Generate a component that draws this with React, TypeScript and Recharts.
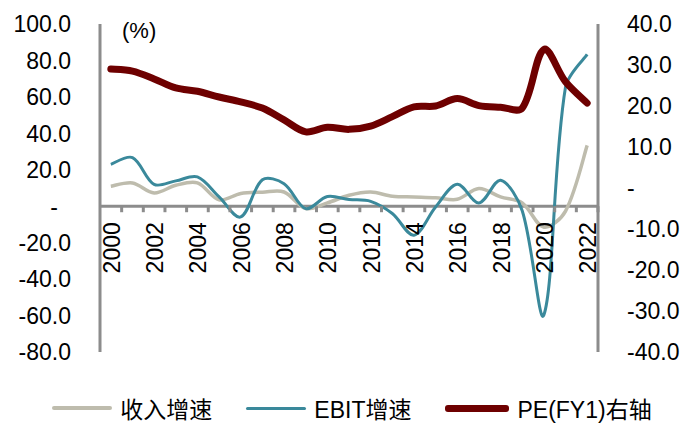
import React from 'react';
import {
  LineChart,
  Line,
  XAxis,
  YAxis,
  ReferenceLine,
  ReferenceDot,
  Legend,
} from 'recharts';

// years on the category axis
const years = [
  2000, 2001, 2002, 2003, 2004, 2005, 2006, 2007, 2008, 2009, 2010, 2011,
  2012, 2013, 2014, 2015, 2016, 2017, 2018, 2019, 2020, 2021, 2022,
];

// 收入增速 (%), left axis
const revenueGrowth = [
  11.0, 12.8, 7.3, 11.5, 12.8, 3.5, 7.0, 7.7, 7.8, -1.3, 1.8, 6.0,
  7.8, 5.5, 5.1, 4.7, 3.8, 9.7, 5.1, 1.8, -11.5, -2.7, 33.4,
];

// EBIT增速 (%), left axis
const ebitGrowth = [
  23.0, 26.7, 12.0, 13.9, 16.1, 5.1, -5.9, 14.5, 12.4, -1.3, 5.3, 3.7,
  2.7, -4.0, -15.9, -0.4, 12.0, 1.8, 14.2, -2.5, -59.7, 65.4, 83.3,
];

// PE(FY1), right axis
const peFy1 = [
  29.0, 28.5, 26.6, 24.4, 23.6, 22.2, 21.0, 19.5, 16.6, 13.7, 14.8, 14.3,
  15.1, 17.4, 19.8, 20.0, 21.8, 20.1, 19.7, 19.5, 33.8, 25.9, 20.7,
];

const leftTicks = [-80, -60, -40, -20, 0, 20, 40, 60, 80, 100];
const rightTicks = [-40, -30, -20, -10, 0, 10, 20, 30, 40];

const data = years.map((year, i) => ({
  year,
  revenue: revenueGrowth[i],
  ebit: ebitGrowth[i],
  pe: peFy1[i],
}));

const FONT = 'Arial, "Liberation Sans", "Noto Sans CJK SC", sans-serif';
const AXIS_GREY = '#8c8c8c';
const WIDTH = 700;
const HEIGHT = 436;
const LEFT_W = 100;
const RIGHT_W = 102;
const HALF_STEP = (WIDTH - LEFT_W - RIGHT_W) / years.length / 2;

const legendOrder = ['revenue', 'ebit', 'pe'];
const seriesStyle: Record<string, { color: string; width: number; sample: number }> = {
  revenue: { color: '#bebcad', width: 3.5, sample: 60 },
  ebit: { color: '#3a899b', width: 3, sample: 60 },
  pe: { color: '#6e0000', width: 7, sample: 64 },
};

// Excel-like smoothed line: Bezier through every point, tangents scaled by
// the lengths of the neighbouring segments so short segments don't overshoot
const excelSmooth = (context: any) => {
  let pts: number[][] = [];
  return {
    areaStart() {},
    areaEnd() {},
    lineStart() {
      pts = [];
    },
    point(x: number, y: number) {
      pts.push([+x, +y]);
    },
    lineEnd() {
      const n = pts.length;
      if (!n) return;
      const dist = (a: number[], b: number[]) =>
        Math.hypot(b[0] - a[0], b[1] - a[1]) || 1e-6;
      context.moveTo(pts[0][0], pts[0][1]);
      for (let i = 0; i < n - 1; i++) {
        const p0 = pts[Math.max(0, i - 1)];
        const p1 = pts[i];
        const p2 = pts[i + 1];
        const p3 = pts[Math.min(n - 1, i + 2)];
        const d01 = i > 0 ? dist(p0, p1) : dist(p1, p2);
        const d12 = dist(p1, p2);
        const d23 = i + 2 < n ? dist(p2, p3) : d12;
        const f1 = d12 / (d01 + d12) / 3;
        const f2 = d12 / (d12 + d23) / 3;
        context.bezierCurveTo(
          p1[0] + (p2[0] - p0[0]) * f1,
          p1[1] + (p2[1] - p0[1]) * f1,
          p2[0] - (p3[0] - p1[0]) * f2,
          p2[1] - (p3[1] - p1[1]) * f2,
          p2[0],
          p2[1]
        );
      }
    },
  };
};

const fmt = (v: number) => (v === 0 ? '-' : v.toFixed(1));

const LeftTick = (props: any) => {
  const { x, y, payload } = props;
  const zero = payload.value === 0;
  return (
    <text
      x={zero ? x - 42 : x - 29}
      y={y}
      dy="0.36em"
      textAnchor="end"
      fontSize={23}
      fontFamily={FONT}
      fill="#000"
    >
      {fmt(payload.value)}
    </text>
  );
};

const RightTick = (props: any) => {
  const { x, y, payload } = props;
  return (
    <text
      x={x + 29}
      y={y}
      dy="0.36em"
      textAnchor="start"
      fontSize={23}
      fontFamily={FONT}
      fill="#000"
    >
      {fmt(payload.value)}
    </text>
  );
};

const PercentLabel = (props: any) => {
  const { viewBox } = props;
  return (
    <text
      x={viewBox.x + viewBox.width + 22}
      y={viewBox.y + 14}
      fontSize={22}
      fontFamily={FONT}
      fill="#000"
    >
      (%)
    </text>
  );
};

// tick mark on the zero line plus the rotated year label
const YearTick = (props: any) => {
  const { cx, cy, year } = props;
  const tx = cx + 1;
  const ty = cy + 16;
  return (
    <g>
      <line
        x1={cx + HALF_STEP}
        x2={cx + HALF_STEP}
        y1={cy}
        y2={cy + 6}
        stroke={AXIS_GREY}
        strokeWidth={3}
      />
      {year % 2 === 0 && (
        <text
          x={tx}
          y={ty}
          transform={`rotate(-90 ${tx} ${ty})`}
          textAnchor="end"
          dominantBaseline="central"
          fontSize={23}
          fontFamily={FONT}
          fill="#000"
        >
          {year}
        </text>
      )}
    </g>
  );
};

const renderLegend = (props: any) => {
  const entries = legendOrder
    .map((key) => props.payload.find((e: any) => e.dataKey === key))
    .filter(Boolean);
  return (
    <div
      style={{
        display: 'flex',
        justifyContent: 'center',
        alignItems: 'center',
        height: 36,
        paddingLeft: 4,
        fontFamily: FONT,
        fontSize: 23,
        color: '#000',
      }}
    >
      {entries.map((entry: any) => {
        const st = seriesStyle[entry.dataKey];
        return (
          <div
            key={entry.dataKey}
            style={{ display: 'flex', alignItems: 'center', margin: '0 17px' }}
          >
            <span
              style={{
                display: 'inline-block',
                width: st.sample,
                height: st.width,
                background: st.color,
                borderRadius: 3,
                marginRight: 8,
              }}
            />
            <span>{entry.value}</span>
          </div>
        );
      })}
    </div>
  );
};

export default function App() {
  return (
    <div style={{ position: 'absolute', left: 0, top: 0 }}>
      <LineChart
        width={WIDTH}
        height={HEIGHT}
        data={data}
        margin={{ top: 24, right: 0, bottom: 48, left: 0 }}
      >
        <XAxis
          dataKey="year"
          type="number"
          domain={[1999.5, 2022.5]}
          hide
        />
        <YAxis
          yAxisId="left"
          domain={[-80, 100]}
          ticks={leftTicks}
          interval={0}
          width={LEFT_W}
          tickLine={false}
          tickSize={0}
          tickMargin={0}
          axisLine={{ stroke: AXIS_GREY, strokeWidth: 3 }}
          tick={<LeftTick />}
          label={<PercentLabel />}
        />
        <YAxis
          yAxisId="right"
          orientation="right"
          domain={[-40, 40]}
          ticks={rightTicks}
          interval={0}
          width={RIGHT_W}
          tickLine={false}
          tickSize={0}
          tickMargin={0}
          axisLine={{ stroke: AXIS_GREY, strokeWidth: 3 }}
          tick={<RightTick />}
        />
        <ReferenceLine
          yAxisId="left"
          y={0}
          stroke={AXIS_GREY}
          strokeWidth={3}
        />
        {years.map((year) => (
          <ReferenceDot
            key={year}
            yAxisId="left"
            x={year}
            y={0}
            ifOverflow="visible"
            shape={(p: any) => <YearTick {...p} year={year} />}
          />
        ))}
        <Line
          yAxisId="left"
          dataKey="revenue"
          name="收入增速"
          type={excelSmooth as any}
          stroke={seriesStyle.revenue.color}
          strokeWidth={seriesStyle.revenue.width}
          dot={false}
          isAnimationActive={false}
        />
        <Line
          yAxisId="left"
          dataKey="ebit"
          name="EBIT增速"
          type={excelSmooth as any}
          stroke={seriesStyle.ebit.color}
          strokeWidth={seriesStyle.ebit.width}
          dot={false}
          isAnimationActive={false}
        />
        <Line
          yAxisId="right"
          dataKey="pe"
          name="PE(FY1)右轴"
          type={excelSmooth as any}
          stroke={seriesStyle.pe.color}
          strokeWidth={seriesStyle.pe.width}
          strokeLinecap="round"
          dot={false}
          isAnimationActive={false}
        />
        <Legend
          verticalAlign="bottom"
          content={renderLegend}
          wrapperStyle={{ bottom: 10, left: 0, width: WIDTH }}
        />
      </LineChart>
    </div>
  );
}
